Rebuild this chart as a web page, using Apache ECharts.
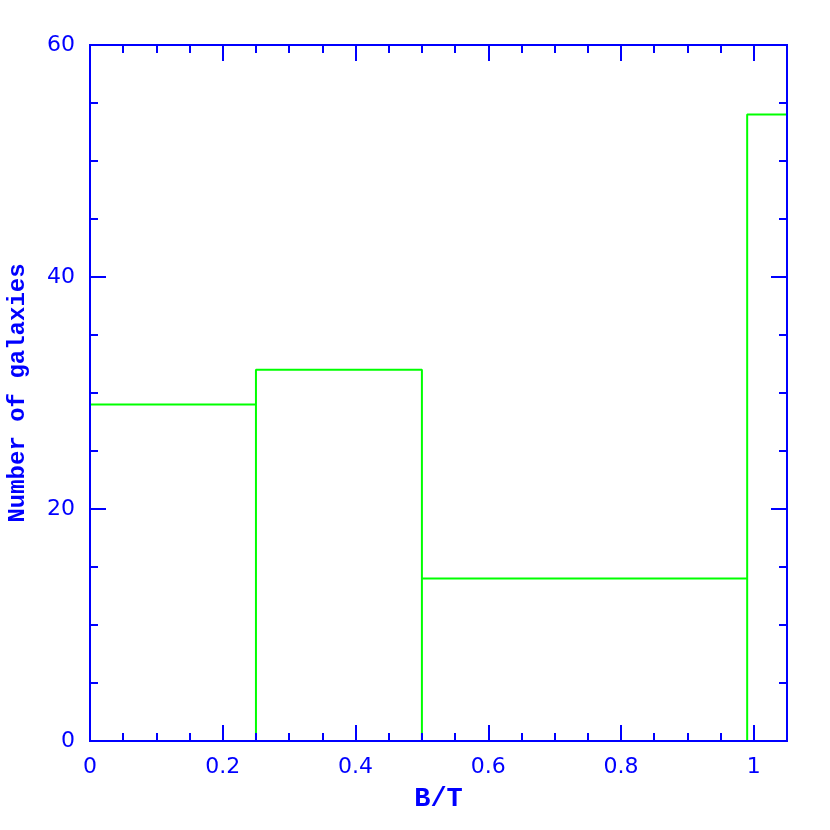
<!DOCTYPE html>
<html>
<head>
<meta charset="utf-8">
<script src="https://cdn.jsdelivr.net/npm/echarts@6/dist/echarts.min.js"></script>
<style>html,body{margin:0;padding:0;background:#fff}#c{width:830px;height:830px}</style>
</head>
<body>
<div id="c"></div>
<script>
// Histogram data
const binEdges = [0, 0.25, 0.5, 0.99, 1.05];
const counts = [29, 32, 14, 54];
const xTickLabels = ['0', '0.2', '0.4', '0.6', '0.8', '1'];
const yTickLabels = ['0', '20', '40', '60'];
const xTitle = 'B/T';
const yTitle = 'Number of galaxies';

// build outlined-step path from bins
const pathPts = [];
for (let i = 0; i < counts.length; i++) {
  if (i > 0) { pathPts.push([binEdges[i], 0]); }
  pathPts.push([binEdges[i], counts[i]]);
  pathPts.push([binEdges[i + 1], counts[i]]);
}

const BLUE = '#0000ff';
const GREEN = '#00ff00';
const FONT = 'DejaVu Sans';
const TFONT = 'Liberation Mono';

function fmtX(v) {
  const idx = Math.round(v * 5);
  if (Math.abs(v * 5 - idx) > 1e-6) return '';
  return xTickLabels[idx] !== undefined ? xTickLabels[idx] : '';
}
function fmtY(v) {
  const idx = Math.round(v / 20);
  if (Math.abs(v - idx * 20) > 1e-6) return '';
  return yTickLabels[idx] !== undefined ? yTickLabels[idx] : '';
}

function xAx(opts) {
  return Object.assign({
    type: 'value', min: 0, max: 1.05, z: 5,
    axisLine: { show: true, onZero: false, lineStyle: { color: BLUE, width: 2 } },
    axisTick: { show: true, inside: true, lineStyle: { color: BLUE, width: 2 } },
    axisLabel: { show: false },
    splitLine: { show: false }
  }, opts);
}
function yAx(opts) {
  return Object.assign({
    type: 'value', min: 0, max: 60, z: 5,
    axisLine: { show: true, onZero: false, lineStyle: { color: BLUE, width: 2 } },
    axisTick: { show: true, inside: true, lineStyle: { color: BLUE, width: 2 } },
    axisLabel: { show: false },
    splitLine: { show: false }
  }, opts);
}

const chart = echarts.init(document.getElementById('c'), null, { renderer: 'canvas' });
chart.setOption({
  animation: false,
  backgroundColor: '#ffffff',
  grid: { left: 90, right: 43, top: 45, bottom: 89, containLabel: false, outerBoundsMode: 'none' },
  xAxis: [
    xAx({ position: 'bottom', interval: 0.2,
      axisTick: { show: true, inside: true, length: 16, lineStyle: { color: BLUE, width: 2 } },
      axisLabel: { show: true, color: BLUE, fontFamily: FONT, fontSize: 22, margin: 15, formatter: fmtX, showMaxLabel: false },
      name: xTitle, nameLocation: 'middle', nameGap: 45,
      nameTextStyle: { color: BLUE, fontFamily: TFONT, fontWeight: 'bold', fontSize: 27 } }),
    xAx({ position: 'bottom', interval: 0.05,
      axisTick: { show: true, inside: true, length: 8, lineStyle: { color: BLUE, width: 2 } } }),
    xAx({ position: 'top', interval: 0.2,
      axisTick: { show: true, inside: true, length: 16, lineStyle: { color: BLUE, width: 2 } } }),
    xAx({ position: 'top', interval: 0.05,
      axisTick: { show: true, inside: true, length: 8, lineStyle: { color: BLUE, width: 2 } } })
  ],
  yAxis: [
    yAx({ position: 'left', interval: 20,
      axisTick: { show: true, inside: true, length: 16, lineStyle: { color: BLUE, width: 2 } },
      axisLabel: { show: true, color: BLUE, fontFamily: FONT, fontSize: 22, margin: 15, formatter: fmtY },
      name: yTitle, nameLocation: 'middle', nameGap: 60, nameRotate: 90,
      nameTextStyle: { color: BLUE, fontFamily: TFONT, fontWeight: 'bold', fontSize: 24 } }),
    yAx({ position: 'left', interval: 5,
      axisTick: { show: true, inside: true, length: 8, lineStyle: { color: BLUE, width: 2 } } }),
    yAx({ position: 'right', interval: 20,
      axisTick: { show: true, inside: true, length: 16, lineStyle: { color: BLUE, width: 2 } } }),
    yAx({ position: 'right', interval: 5,
      axisTick: { show: true, inside: true, length: 8, lineStyle: { color: BLUE, width: 2 } } })
  ],
  series: [{
    type: 'line', xAxisIndex: 0, yAxisIndex: 0, z: 2,
    data: pathPts, showSymbol: false, symbol: 'none',
    lineStyle: { color: GREEN, width: 2 }, clip: true
  }]
});
</script>
</body>
</html>
